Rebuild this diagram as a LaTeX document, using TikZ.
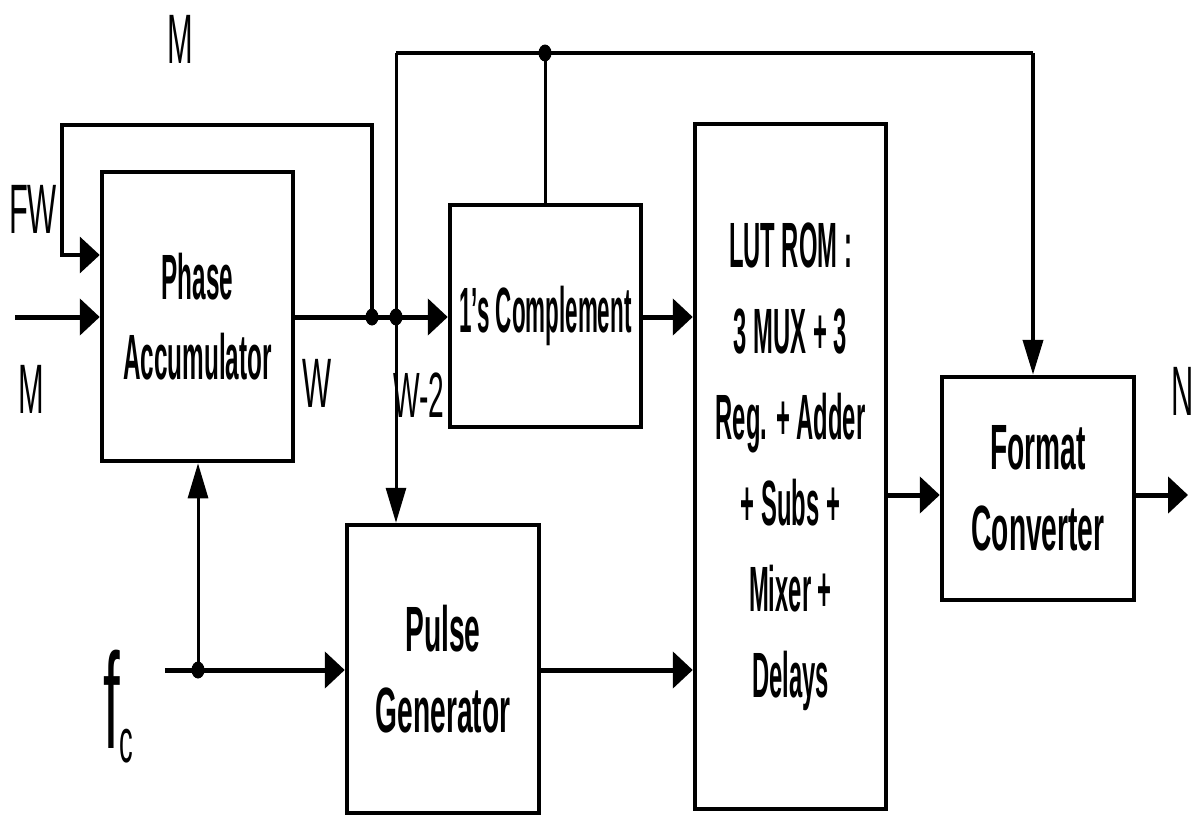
\documentclass[tikz,border=0pt]{standalone}
\usepackage{fontspec}
\setmainfont{Liberation Sans}[FakeStretch=0.44]
\newfontfamily\narrowa{Liberation Sans}[FakeStretch=0.38]
\newfontfamily\narrowb{Liberation Sans}[FakeStretch=0.35]
\newfontfamily\narrowc{Liberation Sans}[FakeStretch=0.372]
\usetikzlibrary{arrows.meta,shapes.geometric}
\tikzset{
  box/.style={draw, line width=4.5pt, inner sep=0pt, align=center,
    font=\bfseries\fontsize{64}{81}\selectfont},
  lbl/.style={inner sep=0pt, font=\fontsize{70}{70}\selectfont},
  wire/.style={line width=5pt},
  midwire/.style={line width=4pt},
  thinwire/.style={line width=3pt},
  ha/.style={-{Triangle[length=20pt,width=36pt]}},
  va/.style={-{Triangle[length=35pt,width=20pt]}},
  dotn/.style={ellipse, fill, minimum width=13pt, minimum height=17pt, inner sep=0pt}
}
\begin{document}
\begin{tikzpicture}[x=1pt,y=-1pt]
\useasboundingbox (0,0) rectangle (1197,817);
% blocks
\node[box, minimum width=191pt, minimum height=289pt, font=\narrowa\bfseries\fontsize{64}{80}\selectfont] (pa) at (197.5,316.5) {Phase\\Accumulator};
\node[box, minimum width=191pt, minimum height=222pt, font=\narrowb\bfseries\fontsize{64}{80}\selectfont] (c1) at (545.5,316) {1’s Complement};
\node[box, minimum width=191pt, minimum height=685pt, font=\narrowc\bfseries\fontsize{64}{86}\selectfont] (lut) at (790.5,466.5)
  {LUT ROM :\\3 MUX + 3\\Reg. + Adder\\+ Subs +\\Mixer +\\Delays};
\node[box, minimum width=192pt, minimum height=223pt] (fc) at (1038,488.5) {Format\\Converter};
\node[box, minimum width=192pt, minimum height=288pt] (pg) at (443,669) {Pulse\\Generator};
% coordinates
\coordinate (min) at (15,317);
\coordinate (fbl) at (62,125);
\coordinate (fbin) at (62,255);
\coordinate (tl) at (396,53);
\coordinate (tr) at (1033,53);
\coordinate (fcin) at (165,670);
\coordinate (row) at (0,495);
\coordinate (out) at (1188,495);
% junction dots
\node[dotn] (j1) at (372,317) {};
\node[dotn] (j2) at (396,317) {};
\node[dotn] (j3) at (545,53) {};
\node[dotn] (j4) at (198,670) {};
% connectors
\draw[wire, ha] (min) -- (pa.west |- min);
\draw[wire, ha] (pa.east |- min) -- (c1.west |- min);
\draw[midwire, ha] (j1.center) |- (fbl) |- (pa.west |- fbin);
\draw[thinwire, va] (tl) -- (tl |- pg.north);
\draw[midwire] (tl) -- (tr);
\draw[midwire, va] (tr) -- (tr |- fc.north);
\draw[thinwire] (j3.center) -- (j3 |- c1.north);
\draw[wire, ha] (c1.east |- min) -- (lut.west |- min);
\draw[wire, ha] (fcin) -- (pg.west |- fcin);
\draw[thinwire, va] (j4.center) -- (j4 |- pa.south);
\draw[wire, ha] (pg.east |- fcin) -- (lut.west |- fcin);
\draw[wire, ha] (lut.east |- row) -- (fc.west |- row);
\draw[wire, ha] (fc.east |- row) -- (out);
% labels
\node[lbl, anchor=base] (lm1) at (180,63) {M};
\node[lbl, anchor=base] (lfw) at (33,233) {FW};
\node[lbl, anchor=base] (lm2) at (31,413) {M};
\node[lbl, anchor=base] (lw) at (317,407) {W};
\node[lbl, anchor=base, font=\fontsize{64}{64}\selectfont] (lw2) at (419,417) {W-2};
\node[lbl, anchor=base west] (ln) at (1171,415) {N};
\node[inner sep=0pt, anchor=base west, font=\fontsize{136}{136}\selectfont] (lfc) at (103,748)
  {f\raisebox{-14pt}{\fontsize{62}{62}\selectfont c}};
\end{tikzpicture}
\end{document}
